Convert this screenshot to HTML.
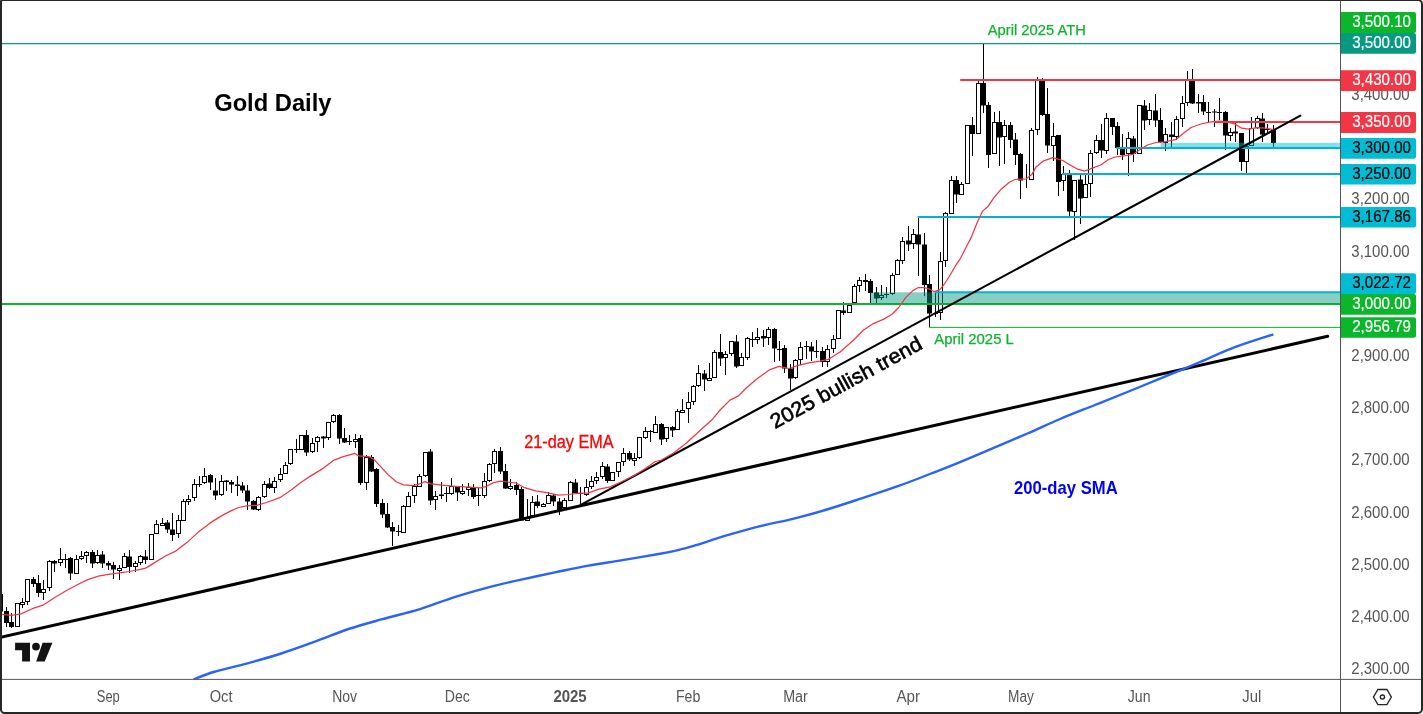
<!DOCTYPE html>
<html lang="en"><head><meta charset="utf-8"><title>Gold Daily</title>
<style>html,body{margin:0;padding:0;background:#fff;}body{width:1423px;height:714px;overflow:hidden;}svg{display:block;}text{font-family:"Liberation Sans",Arial,sans-serif;}</style>
</head><body>
<svg width="1423" height="714" viewBox="0 0 1423 714">
<rect x="0" y="0" width="1423" height="714" fill="#fff"/>
<defs><clipPath id="pane"><rect x="2" y="1" width="1338" height="678.5"/></clipPath></defs>
<g clip-path="url(#pane)">
<line x1="0" y1="43.6" x2="1340" y2="43.6" stroke="#089981" stroke-width="1.1"/>
<g id="candles">
<path d="M0.5 594V614" stroke="#000" stroke-width="1"/>
<rect x="-2" y="594.0" width="5" height="17.5" fill="#000"/>
<path d="M6.5 607V627" stroke="#000" stroke-width="1"/>
<rect x="4" y="611.0" width="5" height="12.0" fill="#000"/>
<path d="M11.5 613V628" stroke="#000" stroke-width="1"/>
<rect x="9" y="622.0" width="5" height="5.0" fill="#000"/>
<path d="M17.5 603V627" stroke="#000" stroke-width="1"/>
<rect x="15.5" y="603.5" width="4" height="23" fill="#fff" stroke="#000" stroke-width="1"/>
<path d="M22.5 598V608" stroke="#000" stroke-width="1"/>
<rect x="20.5" y="602.5" width="4" height="2" fill="#fff" stroke="#000" stroke-width="1"/>
<path d="M27.5 579V605" stroke="#000" stroke-width="1"/>
<rect x="25.5" y="579.5" width="4" height="22" fill="#fff" stroke="#000" stroke-width="1"/>
<path d="M33.5 577V587" stroke="#000" stroke-width="1"/>
<rect x="31" y="579.0" width="5" height="5.0" fill="#000"/>
<path d="M38.5 575V597" stroke="#000" stroke-width="1"/>
<rect x="36" y="583.0" width="5" height="10.0" fill="#000"/>
<path d="M43.5 580V600" stroke="#000" stroke-width="1"/>
<rect x="41.5" y="589.5" width="4" height="3" fill="#fff" stroke="#000" stroke-width="1"/>
<path d="M49.5 560V591" stroke="#000" stroke-width="1"/>
<rect x="47.5" y="561.5" width="4" height="26" fill="#fff" stroke="#000" stroke-width="1"/>
<path d="M54.5 560V572" stroke="#000" stroke-width="1"/>
<rect x="52" y="561.0" width="5" height="2.5" fill="#000"/>
<path d="M60.5 548V566" stroke="#000" stroke-width="1"/>
<rect x="58.5" y="559.5" width="4" height="3" fill="#fff" stroke="#000" stroke-width="1"/>
<path d="M65.5 554V568" stroke="#000" stroke-width="1"/>
<path d="M63 559.5H68" stroke="#000" stroke-width="1"/>
<path d="M70.5 557V580" stroke="#000" stroke-width="1"/>
<rect x="68" y="558.0" width="5" height="15.5" fill="#000"/>
<path d="M76.5 555V574" stroke="#000" stroke-width="1"/>
<rect x="74.5" y="559.5" width="4" height="14" fill="#fff" stroke="#000" stroke-width="1"/>
<path d="M81.5 551V560" stroke="#000" stroke-width="1"/>
<rect x="79.5" y="556.5" width="4" height="2" fill="#fff" stroke="#000" stroke-width="1"/>
<path d="M86.5 551V563" stroke="#000" stroke-width="1"/>
<rect x="84.5" y="552.5" width="4" height="3" fill="#fff" stroke="#000" stroke-width="1"/>
<path d="M92.5 550V568" stroke="#000" stroke-width="1"/>
<rect x="90" y="552.0" width="5" height="11.5" fill="#000"/>
<path d="M97.5 550V564" stroke="#000" stroke-width="1"/>
<rect x="95.5" y="555.5" width="4" height="7" fill="#fff" stroke="#000" stroke-width="1"/>
<path d="M102.5 551V568" stroke="#000" stroke-width="1"/>
<rect x="100" y="554.5" width="5" height="9.0" fill="#000"/>
<path d="M108.5 561V570" stroke="#000" stroke-width="1"/>
<rect x="106" y="563.0" width="5" height="2.5" fill="#000"/>
<path d="M113.5 562V579" stroke="#000" stroke-width="1"/>
<rect x="111" y="565.0" width="5" height="4.5" fill="#000"/>
<path d="M119.5 565V580" stroke="#000" stroke-width="1"/>
<rect x="117.5" y="568.5" width="4" height="2" fill="#fff" stroke="#000" stroke-width="1"/>
<path d="M124.5 553V568" stroke="#000" stroke-width="1"/>
<rect x="122.5" y="556.5" width="4" height="11" fill="#fff" stroke="#000" stroke-width="1"/>
<path d="M129.5 550V573" stroke="#000" stroke-width="1"/>
<rect x="127" y="556.5" width="5" height="10.5" fill="#000"/>
<path d="M135.5 561V572" stroke="#000" stroke-width="1"/>
<rect x="133.5" y="563.5" width="4" height="3" fill="#fff" stroke="#000" stroke-width="1"/>
<path d="M140.5 555V565" stroke="#000" stroke-width="1"/>
<rect x="138.5" y="556.5" width="4" height="6" fill="#fff" stroke="#000" stroke-width="1"/>
<path d="M145.5 550V564" stroke="#000" stroke-width="1"/>
<rect x="143" y="556.5" width="5" height="3.5" fill="#000"/>
<path d="M151.5 534V560" stroke="#000" stroke-width="1"/>
<rect x="149.5" y="534.5" width="4" height="25" fill="#fff" stroke="#000" stroke-width="1"/>
<path d="M156.5 520V534" stroke="#000" stroke-width="1"/>
<rect x="154.5" y="524.5" width="4" height="9" fill="#fff" stroke="#000" stroke-width="1"/>
<path d="M162.5 518V526" stroke="#000" stroke-width="1"/>
<rect x="160.5" y="523.5" width="4" height="2" fill="#fff" stroke="#000" stroke-width="1"/>
<path d="M167.5 520V533" stroke="#000" stroke-width="1"/>
<rect x="165" y="522.5" width="5" height="7.0" fill="#000"/>
<path d="M172.5 513V541" stroke="#000" stroke-width="1"/>
<rect x="170" y="529.5" width="5" height="5.5" fill="#000"/>
<path d="M178.5 515V538" stroke="#000" stroke-width="1"/>
<rect x="176.5" y="520.5" width="4" height="13" fill="#fff" stroke="#000" stroke-width="1"/>
<path d="M183.5 499V521" stroke="#000" stroke-width="1"/>
<rect x="181.5" y="501.5" width="4" height="19" fill="#fff" stroke="#000" stroke-width="1"/>
<path d="M188.5 495V505" stroke="#000" stroke-width="1"/>
<rect x="186.5" y="499.5" width="4" height="2" fill="#fff" stroke="#000" stroke-width="1"/>
<path d="M194.5 479V501" stroke="#000" stroke-width="1"/>
<rect x="192.5" y="484.5" width="4" height="13" fill="#fff" stroke="#000" stroke-width="1"/>
<path d="M199.5 476V487" stroke="#000" stroke-width="1"/>
<path d="M197 484.5H202" stroke="#000" stroke-width="1"/>
<path d="M204.5 468V484" stroke="#000" stroke-width="1"/>
<rect x="202.5" y="476.5" width="4" height="6" fill="#fff" stroke="#000" stroke-width="1"/>
<path d="M210.5 474V490" stroke="#000" stroke-width="1"/>
<rect x="208" y="475.0" width="5" height="7.5" fill="#000"/>
<path d="M215.5 478V500" stroke="#000" stroke-width="1"/>
<rect x="213" y="490.5" width="5" height="5.0" fill="#000"/>
<path d="M221.5 475V496" stroke="#000" stroke-width="1"/>
<rect x="219.5" y="481.5" width="4" height="13" fill="#fff" stroke="#000" stroke-width="1"/>
<path d="M226.5 480V491" stroke="#000" stroke-width="1"/>
<rect x="224" y="480.5" width="5" height="1.5" fill="#000"/>
<path d="M231.5 480V493" stroke="#000" stroke-width="1"/>
<rect x="229" y="482.0" width="5" height="2.5" fill="#000"/>
<path d="M237.5 476V496" stroke="#000" stroke-width="1"/>
<rect x="235" y="484.5" width="5" height="1.5" fill="#000"/>
<path d="M242.5 482V493" stroke="#000" stroke-width="1"/>
<rect x="240" y="485.5" width="5" height="5.0" fill="#000"/>
<path d="M247.5 485V510" stroke="#000" stroke-width="1"/>
<rect x="245" y="490.5" width="5" height="11.0" fill="#000"/>
<path d="M253.5 500V510" stroke="#000" stroke-width="1"/>
<rect x="251" y="501.0" width="5" height="8.5" fill="#000"/>
<path d="M258.5 496V511" stroke="#000" stroke-width="1"/>
<rect x="256.5" y="497.5" width="4" height="12" fill="#fff" stroke="#000" stroke-width="1"/>
<path d="M264.5 481V498" stroke="#000" stroke-width="1"/>
<rect x="262.5" y="484.5" width="4" height="12" fill="#fff" stroke="#000" stroke-width="1"/>
<path d="M269.5 478V489" stroke="#000" stroke-width="1"/>
<rect x="267" y="483.5" width="5" height="4.5" fill="#000"/>
<path d="M274.5 477V493" stroke="#000" stroke-width="1"/>
<rect x="272.5" y="481.5" width="4" height="6" fill="#fff" stroke="#000" stroke-width="1"/>
<path d="M280.5 468V482" stroke="#000" stroke-width="1"/>
<rect x="278.5" y="474.5" width="4" height="5" fill="#fff" stroke="#000" stroke-width="1"/>
<path d="M285.5 462V474" stroke="#000" stroke-width="1"/>
<rect x="283.5" y="465.5" width="4" height="8" fill="#fff" stroke="#000" stroke-width="1"/>
<path d="M290.5 449V465" stroke="#000" stroke-width="1"/>
<rect x="288.5" y="449.5" width="4" height="14" fill="#fff" stroke="#000" stroke-width="1"/>
<path d="M296.5 439V453" stroke="#000" stroke-width="1"/>
<path d="M294 449.5H299" stroke="#000" stroke-width="1"/>
<path d="M301.5 435V450" stroke="#000" stroke-width="1"/>
<rect x="299.5" y="435.5" width="4" height="14" fill="#fff" stroke="#000" stroke-width="1"/>
<path d="M306.5 430V456" stroke="#000" stroke-width="1"/>
<rect x="304" y="435.0" width="5" height="17.5" fill="#000"/>
<path d="M312.5 438V453" stroke="#000" stroke-width="1"/>
<rect x="310.5" y="443.5" width="4" height="8" fill="#fff" stroke="#000" stroke-width="1"/>
<path d="M317.5 436V452" stroke="#000" stroke-width="1"/>
<rect x="315.5" y="437.5" width="4" height="4" fill="#fff" stroke="#000" stroke-width="1"/>
<path d="M323.5 436V448" stroke="#000" stroke-width="1"/>
<rect x="321" y="436.5" width="5" height="2.0" fill="#000"/>
<path d="M328.5 422V440" stroke="#000" stroke-width="1"/>
<rect x="326.5" y="422.5" width="4" height="15" fill="#fff" stroke="#000" stroke-width="1"/>
<path d="M333.5 414V423" stroke="#000" stroke-width="1"/>
<rect x="331.5" y="415.5" width="4" height="6" fill="#fff" stroke="#000" stroke-width="1"/>
<path d="M339.5 414V444" stroke="#000" stroke-width="1"/>
<rect x="337" y="415.0" width="5" height="23.5" fill="#000"/>
<path d="M344.5 428V443" stroke="#000" stroke-width="1"/>
<rect x="342" y="438.0" width="5" height="4.5" fill="#000"/>
<path d="M349.5 435V445" stroke="#000" stroke-width="1"/>
<path d="M347 441.5H352" stroke="#000" stroke-width="1"/>
<path d="M355.5 434V448" stroke="#000" stroke-width="1"/>
<rect x="353.5" y="439.5" width="4" height="2" fill="#fff" stroke="#000" stroke-width="1"/>
<path d="M360.5 435V485" stroke="#000" stroke-width="1"/>
<rect x="358" y="438.0" width="5" height="45.0" fill="#000"/>
<path d="M366.5 455V490" stroke="#000" stroke-width="1"/>
<rect x="364.5" y="457.5" width="4" height="25" fill="#fff" stroke="#000" stroke-width="1"/>
<path d="M371.5 455V472" stroke="#000" stroke-width="1"/>
<rect x="369" y="457.0" width="5" height="14.5" fill="#000"/>
<path d="M376.5 468V507" stroke="#000" stroke-width="1"/>
<rect x="374" y="469.0" width="5" height="35.0" fill="#000"/>
<path d="M382.5 499V518" stroke="#000" stroke-width="1"/>
<rect x="380" y="503.0" width="5" height="11.5" fill="#000"/>
<path d="M387.5 503V528" stroke="#000" stroke-width="1"/>
<rect x="385" y="514.0" width="5" height="13.5" fill="#000"/>
<path d="M392.5 522V546" stroke="#000" stroke-width="1"/>
<rect x="390" y="527.0" width="5" height="4.5" fill="#000"/>
<path d="M398.5 525V536" stroke="#000" stroke-width="1"/>
<path d="M396 531.5H401" stroke="#000" stroke-width="1"/>
<path d="M403.5 505V533" stroke="#000" stroke-width="1"/>
<rect x="401.5" y="506.5" width="4" height="26" fill="#fff" stroke="#000" stroke-width="1"/>
<path d="M408.5 492V507" stroke="#000" stroke-width="1"/>
<rect x="406.5" y="496.5" width="4" height="10" fill="#fff" stroke="#000" stroke-width="1"/>
<path d="M414.5 484V503" stroke="#000" stroke-width="1"/>
<rect x="412.5" y="486.5" width="4" height="9" fill="#fff" stroke="#000" stroke-width="1"/>
<path d="M419.5 474V487" stroke="#000" stroke-width="1"/>
<rect x="417.5" y="476.5" width="4" height="10" fill="#fff" stroke="#000" stroke-width="1"/>
<path d="M425.5 452V477" stroke="#000" stroke-width="1"/>
<rect x="423.5" y="452.5" width="4" height="23" fill="#fff" stroke="#000" stroke-width="1"/>
<path d="M430.5 449V505" stroke="#000" stroke-width="1"/>
<rect x="428" y="451.5" width="5" height="49.0" fill="#000"/>
<path d="M435.5 491V510" stroke="#000" stroke-width="1"/>
<rect x="433.5" y="496.5" width="4" height="3" fill="#fff" stroke="#000" stroke-width="1"/>
<path d="M441.5 482V499" stroke="#000" stroke-width="1"/>
<rect x="439" y="494.5" width="5" height="1.5" fill="#000"/>
<path d="M446.5 487V502" stroke="#000" stroke-width="1"/>
<path d="M444 493.5H449" stroke="#000" stroke-width="1"/>
<path d="M451.5 478V495" stroke="#000" stroke-width="1"/>
<rect x="449.5" y="486.5" width="4" height="7" fill="#fff" stroke="#000" stroke-width="1"/>
<path d="M457.5 486V501" stroke="#000" stroke-width="1"/>
<rect x="455" y="486.5" width="5" height="6.0" fill="#000"/>
<path d="M462.5 484V495" stroke="#000" stroke-width="1"/>
<rect x="460.5" y="491.5" width="4" height="2" fill="#fff" stroke="#000" stroke-width="1"/>
<path d="M468.5 483V496" stroke="#000" stroke-width="1"/>
<rect x="466.5" y="487.5" width="4" height="2" fill="#fff" stroke="#000" stroke-width="1"/>
<path d="M473.5 484V499" stroke="#000" stroke-width="1"/>
<rect x="471" y="487.0" width="5" height="10.0" fill="#000"/>
<path d="M478.5 488V506" stroke="#000" stroke-width="1"/>
<path d="M476 495.5H481" stroke="#000" stroke-width="1"/>
<path d="M484.5 473V498" stroke="#000" stroke-width="1"/>
<rect x="482.5" y="481.5" width="4" height="14" fill="#fff" stroke="#000" stroke-width="1"/>
<path d="M489.5 463V482" stroke="#000" stroke-width="1"/>
<rect x="487.5" y="464.5" width="4" height="16" fill="#fff" stroke="#000" stroke-width="1"/>
<path d="M494.5 449V473" stroke="#000" stroke-width="1"/>
<rect x="492.5" y="451.5" width="4" height="12" fill="#fff" stroke="#000" stroke-width="1"/>
<path d="M500.5 447V474" stroke="#000" stroke-width="1"/>
<rect x="498" y="451.0" width="5" height="20.5" fill="#000"/>
<path d="M505.5 464V489" stroke="#000" stroke-width="1"/>
<rect x="503" y="471.0" width="5" height="17.5" fill="#000"/>
<path d="M510.5 479V490" stroke="#000" stroke-width="1"/>
<rect x="508.5" y="486.5" width="4" height="2" fill="#fff" stroke="#000" stroke-width="1"/>
<path d="M516.5 482V495" stroke="#000" stroke-width="1"/>
<rect x="514" y="485.0" width="5" height="5.0" fill="#000"/>
<path d="M521.5 487V520" stroke="#000" stroke-width="1"/>
<rect x="519" y="489.0" width="5" height="31.5" fill="#000"/>
<path d="M527.5 499V521" stroke="#000" stroke-width="1"/>
<rect x="525.5" y="518.5" width="4" height="2" fill="#fff" stroke="#000" stroke-width="1"/>
<path d="M532.5 496V516" stroke="#000" stroke-width="1"/>
<rect x="530.5" y="502.5" width="4" height="13" fill="#fff" stroke="#000" stroke-width="1"/>
<path d="M537.5 495V508" stroke="#000" stroke-width="1"/>
<rect x="535" y="501.5" width="5" height="4.5" fill="#000"/>
<path d="M543.5 503V506" stroke="#000" stroke-width="1"/>
<rect x="541.5" y="504.5" width="4" height="2" fill="#fff" stroke="#000" stroke-width="1"/>
<path d="M548.5 492V504" stroke="#000" stroke-width="1"/>
<rect x="546.5" y="495.5" width="4" height="8" fill="#fff" stroke="#000" stroke-width="1"/>
<path d="M553.5 494V506" stroke="#000" stroke-width="1"/>
<rect x="551" y="495.5" width="5" height="6.0" fill="#000"/>
<path d="M559.5 498V515" stroke="#000" stroke-width="1"/>
<rect x="557" y="501.5" width="5" height="8.5" fill="#000"/>
<path d="M564.5 498V508" stroke="#000" stroke-width="1"/>
<rect x="562.5" y="500.5" width="4" height="7" fill="#fff" stroke="#000" stroke-width="1"/>
<path d="M570.5 481V501" stroke="#000" stroke-width="1"/>
<rect x="568.5" y="482.5" width="4" height="18" fill="#fff" stroke="#000" stroke-width="1"/>
<path d="M575.5 479V493" stroke="#000" stroke-width="1"/>
<rect x="573" y="482.5" width="5" height="10.5" fill="#000"/>
<path d="M580.5 487V504" stroke="#000" stroke-width="1"/>
<path d="M578 493.5H583" stroke="#000" stroke-width="1"/>
<path d="M586.5 479V496" stroke="#000" stroke-width="1"/>
<rect x="584.5" y="487.5" width="4" height="7" fill="#fff" stroke="#000" stroke-width="1"/>
<path d="M591.5 476V489" stroke="#000" stroke-width="1"/>
<rect x="589.5" y="481.5" width="4" height="5" fill="#fff" stroke="#000" stroke-width="1"/>
<path d="M596.5 472V484" stroke="#000" stroke-width="1"/>
<rect x="594.5" y="477.5" width="4" height="3" fill="#fff" stroke="#000" stroke-width="1"/>
<path d="M602.5 462V479" stroke="#000" stroke-width="1"/>
<rect x="600.5" y="466.5" width="4" height="10" fill="#fff" stroke="#000" stroke-width="1"/>
<path d="M607.5 464V483" stroke="#000" stroke-width="1"/>
<rect x="605" y="466.5" width="5" height="14.5" fill="#000"/>
<path d="M612.5 472V481" stroke="#000" stroke-width="1"/>
<rect x="610.5" y="472.5" width="4" height="8" fill="#fff" stroke="#000" stroke-width="1"/>
<path d="M618.5 462V477" stroke="#000" stroke-width="1"/>
<rect x="616.5" y="462.5" width="4" height="9" fill="#fff" stroke="#000" stroke-width="1"/>
<path d="M623.5 448V466" stroke="#000" stroke-width="1"/>
<rect x="621.5" y="453.5" width="4" height="8" fill="#fff" stroke="#000" stroke-width="1"/>
<path d="M629.5 451V461" stroke="#000" stroke-width="1"/>
<rect x="627" y="453.0" width="5" height="6.5" fill="#000"/>
<path d="M634.5 453V466" stroke="#000" stroke-width="1"/>
<rect x="632.5" y="458.5" width="4" height="2" fill="#fff" stroke="#000" stroke-width="1"/>
<path d="M639.5 437V459" stroke="#000" stroke-width="1"/>
<rect x="637.5" y="437.5" width="4" height="20" fill="#fff" stroke="#000" stroke-width="1"/>
<path d="M645.5 427V439" stroke="#000" stroke-width="1"/>
<rect x="643.5" y="431.5" width="4" height="6" fill="#fff" stroke="#000" stroke-width="1"/>
<path d="M650.5 430V442" stroke="#000" stroke-width="1"/>
<path d="M648 431.5H653" stroke="#000" stroke-width="1"/>
<path d="M655.5 416V433" stroke="#000" stroke-width="1"/>
<rect x="653.5" y="424.5" width="4" height="8" fill="#fff" stroke="#000" stroke-width="1"/>
<path d="M661.5 423V445" stroke="#000" stroke-width="1"/>
<rect x="659" y="424.0" width="5" height="15.5" fill="#000"/>
<path d="M666.5 427V442" stroke="#000" stroke-width="1"/>
<rect x="664.5" y="427.5" width="4" height="11" fill="#fff" stroke="#000" stroke-width="1"/>
<path d="M672.5 426V437" stroke="#000" stroke-width="1"/>
<rect x="670" y="427.0" width="5" height="3.5" fill="#000"/>
<path d="M677.5 409V430" stroke="#000" stroke-width="1"/>
<rect x="675.5" y="411.5" width="4" height="18" fill="#fff" stroke="#000" stroke-width="1"/>
<path d="M682.5 399V412" stroke="#000" stroke-width="1"/>
<rect x="680.5" y="410.5" width="4" height="2" fill="#fff" stroke="#000" stroke-width="1"/>
<path d="M688.5 392V423" stroke="#000" stroke-width="1"/>
<rect x="686.5" y="402.5" width="4" height="6" fill="#fff" stroke="#000" stroke-width="1"/>
<path d="M693.5 385V405" stroke="#000" stroke-width="1"/>
<rect x="691.5" y="386.5" width="4" height="15" fill="#fff" stroke="#000" stroke-width="1"/>
<path d="M698.5 365V387" stroke="#000" stroke-width="1"/>
<rect x="696.5" y="373.5" width="4" height="12" fill="#fff" stroke="#000" stroke-width="1"/>
<path d="M704.5 370V391" stroke="#000" stroke-width="1"/>
<rect x="702" y="373.5" width="5" height="6.0" fill="#000"/>
<path d="M709.5 363V380" stroke="#000" stroke-width="1"/>
<rect x="707.5" y="378.5" width="4" height="2" fill="#fff" stroke="#000" stroke-width="1"/>
<path d="M714.5 350V378" stroke="#000" stroke-width="1"/>
<rect x="712.5" y="352.5" width="4" height="25" fill="#fff" stroke="#000" stroke-width="1"/>
<path d="M720.5 334V366" stroke="#000" stroke-width="1"/>
<rect x="718" y="352.0" width="5" height="6.5" fill="#000"/>
<path d="M725.5 351V375" stroke="#000" stroke-width="1"/>
<rect x="723.5" y="354.5" width="4" height="3" fill="#fff" stroke="#000" stroke-width="1"/>
<path d="M731.5 341V356" stroke="#000" stroke-width="1"/>
<rect x="729.5" y="341.5" width="4" height="12" fill="#fff" stroke="#000" stroke-width="1"/>
<path d="M736.5 335V368" stroke="#000" stroke-width="1"/>
<rect x="734" y="341.5" width="5" height="25.0" fill="#000"/>
<path d="M741.5 353V366" stroke="#000" stroke-width="1"/>
<rect x="739.5" y="357.5" width="4" height="8" fill="#fff" stroke="#000" stroke-width="1"/>
<path d="M747.5 337V360" stroke="#000" stroke-width="1"/>
<rect x="745.5" y="338.5" width="4" height="19" fill="#fff" stroke="#000" stroke-width="1"/>
<path d="M752.5 332V347" stroke="#000" stroke-width="1"/>
<path d="M750 339.5H755" stroke="#000" stroke-width="1"/>
<path d="M757.5 328V344" stroke="#000" stroke-width="1"/>
<rect x="755.5" y="337.5" width="4" height="2" fill="#fff" stroke="#000" stroke-width="1"/>
<path d="M763.5 330V347" stroke="#000" stroke-width="1"/>
<rect x="761" y="336.0" width="5" height="2.5" fill="#000"/>
<path d="M768.5 327V345" stroke="#000" stroke-width="1"/>
<rect x="766.5" y="329.5" width="4" height="8" fill="#fff" stroke="#000" stroke-width="1"/>
<path d="M774.5 328V362" stroke="#000" stroke-width="1"/>
<rect x="772" y="329.0" width="5" height="19.5" fill="#000"/>
<path d="M779.5 341V361" stroke="#000" stroke-width="1"/>
<path d="M777 349.5H782" stroke="#000" stroke-width="1"/>
<path d="M784.5 345V373" stroke="#000" stroke-width="1"/>
<rect x="782" y="348.0" width="5" height="20.5" fill="#000"/>
<path d="M790.5 364V390" stroke="#000" stroke-width="1"/>
<rect x="788" y="368.5" width="5" height="10.0" fill="#000"/>
<path d="M795.5 359V379" stroke="#000" stroke-width="1"/>
<rect x="793.5" y="360.5" width="4" height="17" fill="#fff" stroke="#000" stroke-width="1"/>
<path d="M800.5 342V365" stroke="#000" stroke-width="1"/>
<rect x="798.5" y="347.5" width="4" height="12" fill="#fff" stroke="#000" stroke-width="1"/>
<path d="M806.5 341V359" stroke="#000" stroke-width="1"/>
<path d="M804 346.5H809" stroke="#000" stroke-width="1"/>
<path d="M811.5 342V361" stroke="#000" stroke-width="1"/>
<rect x="809" y="346.5" width="5" height="5.0" fill="#000"/>
<path d="M816.5 340V358" stroke="#000" stroke-width="1"/>
<path d="M814 351.5H819" stroke="#000" stroke-width="1"/>
<path d="M822.5 347V367" stroke="#000" stroke-width="1"/>
<rect x="820" y="351.0" width="5" height="11.0" fill="#000"/>
<path d="M827.5 345V367" stroke="#000" stroke-width="1"/>
<rect x="825.5" y="349.5" width="4" height="12" fill="#fff" stroke="#000" stroke-width="1"/>
<path d="M833.5 335V353" stroke="#000" stroke-width="1"/>
<rect x="831.5" y="339.5" width="4" height="9" fill="#fff" stroke="#000" stroke-width="1"/>
<path d="M838.5 310V339" stroke="#000" stroke-width="1"/>
<rect x="836.5" y="310.5" width="4" height="28" fill="#fff" stroke="#000" stroke-width="1"/>
<path d="M843.5 302V315" stroke="#000" stroke-width="1"/>
<rect x="841" y="310.5" width="5" height="2.5" fill="#000"/>
<path d="M849.5 304V313" stroke="#000" stroke-width="1"/>
<rect x="847.5" y="305.5" width="4" height="7" fill="#fff" stroke="#000" stroke-width="1"/>
<path d="M854.5 284V303" stroke="#000" stroke-width="1"/>
<rect x="852.5" y="286.5" width="4" height="16" fill="#fff" stroke="#000" stroke-width="1"/>
<path d="M859.5 277V292" stroke="#000" stroke-width="1"/>
<rect x="857.5" y="280.5" width="4" height="5" fill="#fff" stroke="#000" stroke-width="1"/>
<path d="M865.5 274V291" stroke="#000" stroke-width="1"/>
<rect x="863" y="280.0" width="5" height="2.0" fill="#000"/>
<path d="M870.5 279V303" stroke="#000" stroke-width="1"/>
<rect x="868" y="281.0" width="5" height="12.0" fill="#000"/>
<path d="M876.5 287V303" stroke="#000" stroke-width="1"/>
<rect x="874" y="292.5" width="5" height="6.0" fill="#000"/>
<path d="M881.5 285V300" stroke="#000" stroke-width="1"/>
<rect x="879.5" y="295.5" width="4" height="2" fill="#fff" stroke="#000" stroke-width="1"/>
<path d="M886.5 287V298" stroke="#000" stroke-width="1"/>
<path d="M884 294.5H889" stroke="#000" stroke-width="1"/>
<path d="M892.5 273V295" stroke="#000" stroke-width="1"/>
<rect x="890.5" y="275.5" width="4" height="18" fill="#fff" stroke="#000" stroke-width="1"/>
<path d="M897.5 259V275" stroke="#000" stroke-width="1"/>
<rect x="895.5" y="260.5" width="4" height="14" fill="#fff" stroke="#000" stroke-width="1"/>
<path d="M902.5 237V264" stroke="#000" stroke-width="1"/>
<rect x="900.5" y="241.5" width="4" height="19" fill="#fff" stroke="#000" stroke-width="1"/>
<path d="M908.5 226V251" stroke="#000" stroke-width="1"/>
<rect x="906" y="240.5" width="5" height="4.0" fill="#000"/>
<path d="M913.5 229V249" stroke="#000" stroke-width="1"/>
<rect x="911.5" y="234.5" width="4" height="9" fill="#fff" stroke="#000" stroke-width="1"/>
<path d="M918.5 218V276" stroke="#000" stroke-width="1"/>
<rect x="916" y="234.5" width="5" height="10.0" fill="#000"/>
<path d="M924.5 233V296" stroke="#000" stroke-width="1"/>
<rect x="922" y="244.5" width="5" height="40.5" fill="#000"/>
<path d="M929.5 275V327" stroke="#000" stroke-width="1"/>
<rect x="927" y="284.0" width="5" height="29.5" fill="#000"/>
<path d="M935.5 292V317" stroke="#000" stroke-width="1"/>
<path d="M933 313.5H938" stroke="#000" stroke-width="1"/>
<path d="M940.5 252V320" stroke="#000" stroke-width="1"/>
<rect x="938.5" y="261.5" width="4" height="51" fill="#fff" stroke="#000" stroke-width="1"/>
<path d="M945.5 212V267" stroke="#000" stroke-width="1"/>
<rect x="943.5" y="213.5" width="4" height="47" fill="#fff" stroke="#000" stroke-width="1"/>
<path d="M951.5 176V214" stroke="#000" stroke-width="1"/>
<rect x="949.5" y="180.5" width="4" height="33" fill="#fff" stroke="#000" stroke-width="1"/>
<path d="M956.5 176V203" stroke="#000" stroke-width="1"/>
<rect x="954" y="180.0" width="5" height="14.5" fill="#000"/>
<path d="M961.5 182V195" stroke="#000" stroke-width="1"/>
<rect x="959.5" y="184.5" width="4" height="10" fill="#fff" stroke="#000" stroke-width="1"/>
<path d="M967.5 125V184" stroke="#000" stroke-width="1"/>
<rect x="965.5" y="125.5" width="4" height="58" fill="#fff" stroke="#000" stroke-width="1"/>
<path d="M972.5 117V156" stroke="#000" stroke-width="1"/>
<rect x="970" y="125.0" width="5" height="9.0" fill="#000"/>
<path d="M978.5 81V134" stroke="#000" stroke-width="1"/>
<rect x="976.5" y="83.5" width="4" height="50" fill="#fff" stroke="#000" stroke-width="1"/>
<path d="M983.5 44V113" stroke="#000" stroke-width="1"/>
<rect x="981" y="83.0" width="5" height="22.5" fill="#000"/>
<path d="M988.5 102V168" stroke="#000" stroke-width="1"/>
<rect x="986" y="105.0" width="5" height="50.0" fill="#000"/>
<path d="M994.5 112V154" stroke="#000" stroke-width="1"/>
<rect x="992.5" y="122.5" width="4" height="31" fill="#fff" stroke="#000" stroke-width="1"/>
<path d="M999.5 111V166" stroke="#000" stroke-width="1"/>
<rect x="997" y="122.0" width="5" height="15.5" fill="#000"/>
<path d="M1004.5 120V164" stroke="#000" stroke-width="1"/>
<rect x="1002.5" y="125.5" width="4" height="11" fill="#fff" stroke="#000" stroke-width="1"/>
<path d="M1010.5 122V148" stroke="#000" stroke-width="1"/>
<rect x="1008" y="125.0" width="5" height="15.0" fill="#000"/>
<path d="M1015.5 133V165" stroke="#000" stroke-width="1"/>
<rect x="1013" y="139.5" width="5" height="15.5" fill="#000"/>
<path d="M1020.5 153V199" stroke="#000" stroke-width="1"/>
<rect x="1018" y="154.0" width="5" height="26.5" fill="#000"/>
<path d="M1026.5 164V188" stroke="#000" stroke-width="1"/>
<path d="M1031.5 128V180" stroke="#000" stroke-width="1"/>
<rect x="1029.5" y="130.5" width="4" height="49" fill="#fff" stroke="#000" stroke-width="1"/>
<path d="M1037.5 77V135" stroke="#000" stroke-width="1"/>
<rect x="1035.5" y="80.5" width="4" height="49" fill="#fff" stroke="#000" stroke-width="1"/>
<path d="M1042.5 78V116" stroke="#000" stroke-width="1"/>
<rect x="1040" y="80.0" width="5" height="35.0" fill="#000"/>
<path d="M1047.5 88V153" stroke="#000" stroke-width="1"/>
<rect x="1045" y="114.0" width="5" height="31.5" fill="#000"/>
<path d="M1053.5 123V161" stroke="#000" stroke-width="1"/>
<rect x="1051.5" y="136.5" width="4" height="9" fill="#fff" stroke="#000" stroke-width="1"/>
<path d="M1058.5 135V196" stroke="#000" stroke-width="1"/>
<rect x="1056" y="135.0" width="5" height="47.0" fill="#000"/>
<path d="M1063.5 166V191" stroke="#000" stroke-width="1"/>
<rect x="1061.5" y="174.5" width="4" height="6" fill="#fff" stroke="#000" stroke-width="1"/>
<path d="M1069.5 170V216" stroke="#000" stroke-width="1"/>
<rect x="1067" y="175.0" width="5" height="36.5" fill="#000"/>
<path d="M1074.5 180V240" stroke="#000" stroke-width="1"/>
<rect x="1072.5" y="180.5" width="4" height="31" fill="#fff" stroke="#000" stroke-width="1"/>
<path d="M1080.5 175V224" stroke="#000" stroke-width="1"/>
<rect x="1078" y="179.5" width="5" height="19.0" fill="#000"/>
<path d="M1085.5 174V198" stroke="#000" stroke-width="1"/>
<rect x="1083.5" y="184.5" width="4" height="13" fill="#fff" stroke="#000" stroke-width="1"/>
<path d="M1090.5 150V197" stroke="#000" stroke-width="1"/>
<rect x="1088.5" y="153.5" width="4" height="30" fill="#fff" stroke="#000" stroke-width="1"/>
<path d="M1096.5 135V154" stroke="#000" stroke-width="1"/>
<rect x="1094.5" y="140.5" width="4" height="12" fill="#fff" stroke="#000" stroke-width="1"/>
<path d="M1101.5 124V158" stroke="#000" stroke-width="1"/>
<rect x="1099" y="140.0" width="5" height="10.5" fill="#000"/>
<path d="M1106.5 113V154" stroke="#000" stroke-width="1"/>
<rect x="1104.5" y="118.5" width="4" height="32" fill="#fff" stroke="#000" stroke-width="1"/>
<path d="M1112.5 118V135" stroke="#000" stroke-width="1"/>
<rect x="1110" y="118.0" width="5" height="9.0" fill="#000"/>
<path d="M1117.5 122V155" stroke="#000" stroke-width="1"/>
<rect x="1115" y="126.0" width="5" height="22.0" fill="#000"/>
<path d="M1122.5 134V160" stroke="#000" stroke-width="1"/>
<rect x="1120" y="148.0" width="5" height="7.0" fill="#000"/>
<path d="M1128.5 132V176" stroke="#000" stroke-width="1"/>
<rect x="1126.5" y="138.5" width="4" height="15" fill="#fff" stroke="#000" stroke-width="1"/>
<path d="M1133.5 136V162" stroke="#000" stroke-width="1"/>
<rect x="1131" y="138.5" width="5" height="15.5" fill="#000"/>
<path d="M1139.5 105V154" stroke="#000" stroke-width="1"/>
<rect x="1137.5" y="105.5" width="4" height="48" fill="#fff" stroke="#000" stroke-width="1"/>
<path d="M1144.5 100V130" stroke="#000" stroke-width="1"/>
<rect x="1142" y="105.5" width="5" height="15.0" fill="#000"/>
<path d="M1149.5 103V125" stroke="#000" stroke-width="1"/>
<rect x="1147.5" y="110.5" width="4" height="9" fill="#fff" stroke="#000" stroke-width="1"/>
<path d="M1155.5 94V127" stroke="#000" stroke-width="1"/>
<rect x="1153" y="110.5" width="5" height="10.0" fill="#000"/>
<path d="M1160.5 108V143" stroke="#000" stroke-width="1"/>
<rect x="1158" y="120.0" width="5" height="22.0" fill="#000"/>
<path d="M1165.5 128V151" stroke="#000" stroke-width="1"/>
<rect x="1163.5" y="134.5" width="4" height="8" fill="#fff" stroke="#000" stroke-width="1"/>
<path d="M1171.5 122V147" stroke="#000" stroke-width="1"/>
<rect x="1169" y="134.5" width="5" height="2.5" fill="#000"/>
<path d="M1176.5 116V140" stroke="#000" stroke-width="1"/>
<rect x="1174.5" y="119.5" width="4" height="17" fill="#fff" stroke="#000" stroke-width="1"/>
<path d="M1182.5 96V127" stroke="#000" stroke-width="1"/>
<rect x="1180.5" y="103.5" width="4" height="15" fill="#fff" stroke="#000" stroke-width="1"/>
<path d="M1187.5 71V106" stroke="#000" stroke-width="1"/>
<rect x="1185.5" y="80.5" width="4" height="22" fill="#fff" stroke="#000" stroke-width="1"/>
<path d="M1192.5 69V104" stroke="#000" stroke-width="1"/>
<rect x="1190" y="80.0" width="5" height="23.5" fill="#000"/>
<path d="M1198.5 94V113" stroke="#000" stroke-width="1"/>
<rect x="1196" y="102.0" width="5" height="1.5" fill="#000"/>
<path d="M1203.5 95V115" stroke="#000" stroke-width="1"/>
<rect x="1201" y="102.0" width="5" height="9.5" fill="#000"/>
<path d="M1208.5 102V122" stroke="#000" stroke-width="1"/>
<path d="M1206 112.5H1211" stroke="#000" stroke-width="1"/>
<path d="M1214.5 109V127" stroke="#000" stroke-width="1"/>
<rect x="1212" y="111.5" width="5" height="1.0" fill="#000"/>
<path d="M1219.5 98V120" stroke="#000" stroke-width="1"/>
<path d="M1217 112.5H1222" stroke="#000" stroke-width="1"/>
<path d="M1225.5 111V150" stroke="#000" stroke-width="1"/>
<rect x="1223" y="112.0" width="5" height="23.5" fill="#000"/>
<path d="M1230.5 128V141" stroke="#000" stroke-width="1"/>
<rect x="1228.5" y="132.5" width="4" height="3" fill="#fff" stroke="#000" stroke-width="1"/>
<path d="M1235.5 123V142" stroke="#000" stroke-width="1"/>
<rect x="1233" y="131.5" width="5" height="2.0" fill="#000"/>
<path d="M1241.5 133V171" stroke="#000" stroke-width="1"/>
<rect x="1239" y="133.0" width="5" height="29.0" fill="#000"/>
<path d="M1246.5 146V173" stroke="#000" stroke-width="1"/>
<rect x="1244.5" y="146.5" width="4" height="15" fill="#fff" stroke="#000" stroke-width="1"/>
<path d="M1251.5 117V146" stroke="#000" stroke-width="1"/>
<rect x="1249.5" y="128.5" width="4" height="17" fill="#fff" stroke="#000" stroke-width="1"/>
<path d="M1257.5 116V129" stroke="#000" stroke-width="1"/>
<rect x="1255.5" y="118.5" width="4" height="9" fill="#fff" stroke="#000" stroke-width="1"/>
<path d="M1262.5 113V142" stroke="#000" stroke-width="1"/>
<rect x="1260" y="118.5" width="5" height="16.0" fill="#000"/>
<path d="M1267.5 124V134" stroke="#000" stroke-width="1"/>
<path d="M1265 129.5H1270" stroke="#000" stroke-width="1"/>
<path d="M1273.5 125V147" stroke="#000" stroke-width="1"/>
<rect x="1271" y="129.0" width="5" height="14.0" fill="#000"/>
</g>
<line x1="0" y1="303.9" x2="1340" y2="303.9" stroke="#0bb62a" stroke-width="2"/>
<rect x="870.6" y="292.3" width="470" height="11.6" fill="#089981" fill-opacity="0.48"/>
<rect x="1160.6" y="142.8" width="180" height="5.2" fill="#00bcd4" fill-opacity="0.48"/>
<line x1="935" y1="292.2" x2="1340" y2="292.2" stroke="#00b4d0" stroke-width="2"/>
<line x1="917.7" y1="217.0" x2="1340" y2="217.0" stroke="#00b4d0" stroke-width="2"/>
<line x1="1062" y1="174.1" x2="1340" y2="174.1" stroke="#00b4d0" stroke-width="2"/>
<line x1="1116.3" y1="148.0" x2="1340" y2="148.0" stroke="#00b4d0" stroke-width="2"/>
<line x1="960.2" y1="80.1" x2="1340" y2="80.1" stroke="#f23645" stroke-width="2"/>
<line x1="1214.2" y1="122" x2="1340" y2="122" stroke="#f23645" stroke-width="2"/>
<line x1="929" y1="327.4" x2="1340" y2="327.4" stroke="#0bb62a" stroke-width="1"/>
<line x1="-2" y1="637.9" x2="1327.7" y2="336.3" stroke="#000" stroke-width="3.0" stroke-linecap="round"/>
<line x1="580.8" y1="504.8" x2="1300.4" y2="115.7" stroke="#000" stroke-width="2.1" stroke-linecap="round"/>
<path d="M193.5 679.3C196.9 678.1 204.7 674.7 213.7 672.0C222.7 669.3 236.2 666.4 247.5 663.3C258.8 660.2 270.0 657.1 281.2 653.5C292.4 649.9 303.7 645.8 314.9 641.7C326.1 637.6 337.4 632.8 348.6 629.0C359.9 625.2 370.5 622.5 382.4 619.2C394.3 615.9 408.1 612.7 420.0 609.1C431.9 605.5 442.4 601.0 453.7 597.4C464.9 593.8 476.2 590.6 487.5 587.6C498.8 584.6 510.0 582.1 521.2 579.6C532.4 577.1 543.7 574.7 554.9 572.4C566.1 570.1 577.4 567.6 588.6 565.6C599.9 563.6 610.5 562.1 622.4 560.1C634.3 558.1 650.9 555.4 660.0 553.8C669.1 552.2 671.3 551.6 676.9 550.3C682.5 549.0 685.3 548.3 693.7 545.8C702.1 543.3 716.2 538.5 727.5 535.2C738.8 531.9 750.0 528.7 761.2 525.9C772.4 523.1 783.7 521.1 794.9 518.3C806.1 515.5 817.4 512.4 828.6 509.0C839.9 505.6 850.5 502.0 862.4 498.1C874.3 494.2 888.7 489.4 900.0 485.4C911.3 481.4 920.0 477.9 930.0 474.0C940.0 470.1 949.4 466.5 960.0 462.1C970.6 457.8 982.5 452.7 993.7 447.9C1005.0 443.1 1016.2 438.4 1027.5 433.5C1038.8 428.6 1050.0 423.2 1061.2 418.5C1072.4 413.8 1083.7 409.5 1094.9 405.0C1106.1 400.5 1117.3 396.1 1128.6 391.5C1139.8 386.9 1150.5 382.5 1162.4 377.6C1174.3 372.7 1187.9 367.1 1200.0 362.0C1212.1 356.9 1222.7 351.8 1234.9 347.2C1247.1 342.6 1267.0 336.5 1273.4 334.4" fill="none" stroke="#2962ff" stroke-width="2.4" stroke-linejoin="round"/>
<polyline points="2.1,614.3 11.2,615.3 21.1,613.9 32.3,608.7 43.6,604.8 54.8,597.5 66.1,590.7 77.3,584.8 87.1,579.9 98.4,576.1 108.2,574.3 119.5,572.9 129.3,571.5 140.5,569.4 146.2,567.9 154.6,562.6 165.8,555.7 175.7,551.1 186.9,542.6 199.0,531.4 210.3,522.9 220.1,516.6 229.9,511.4 238.4,507.5 246.8,505.8 256.7,505.4 266.5,502.5 280.5,497.3 291.2,490.0 301.1,482.2 310.9,475.9 322.2,468.9 333.4,460.4 343.2,456.6 354.9,453.4 358.7,455.9 370.0,456.9 374.2,459.7 378.3,464.1 388.1,474.6 396.5,482.0 403.6,484.9 413.4,485.6 420.4,483.7 424.7,481.6 430.3,483.7 441.5,485.1 455.6,486.3 469.6,487.2 480.9,487.9 486.5,486.3 493.5,482.6 500.5,481.2 507.6,482.0 516.0,483.0 524.4,487.7 535.7,490.8 546.9,492.6 558.3,495.2 568.1,494.5 579.4,493.1 587.8,493.1 599.0,489.2 610.3,486.8 621.5,481.8 634.2,475.5 645.4,468.5 655.2,461.5 660.9,460.3 673.5,453.0 686.2,443.2 694.6,435.5 703.0,427.7 711.5,420.3 720.1,410.0 730.0,400.1 738.4,395.9 746.8,387.5 756.7,379.0 769.3,369.9 779.1,366.4 789.0,368.5 797.4,365.7 808.7,362.9 819.9,361.2 828.3,359.4 834.0,355.8 840.0,352.0 853.7,340.0 863.6,330.0 873.4,323.6 883.2,319.4 891.7,314.5 898.7,307.5 905.7,297.6 912.8,290.6 918.4,287.5 924.0,287.5 929.6,289.2 934.5,291.7 939.5,289.9 943.7,285.0 949.3,276.5 954.9,266.7 960.5,258.3 966.2,247.0 971.4,237.1 977.0,223.1 982.6,211.1 988.2,206.2 993.8,197.8 1000.9,189.4 1009.3,182.3 1014.9,179.5 1026.2,178.8 1031.8,174.6 1036.0,166.9 1043.0,161.2 1052.9,157.7 1062.7,160.5 1069.7,164.8 1076.9,168.8 1084.6,171.2 1092.3,168.1 1100.8,165.0 1108.5,159.5 1115.1,157.0 1125.0,155.6 1133.4,154.3 1140.4,149.3 1147.5,145.0 1155.9,142.5 1164.3,141.8 1175.6,139.7 1182.6,134.0 1191.0,127.5 1200.9,124.0 1210.7,121.8 1220.5,121.1 1229.0,122.5 1234.6,123.9 1241.6,128.2 1248.7,129.2 1257.1,127.7 1265.5,128.2 1273.3,129.6" fill="none" stroke="#f23645" stroke-width="1.25" stroke-linejoin="round"/>
<text x="214.2" y="110.7" font-size="24.8" font-weight="bold" fill="#000" textLength="117.3" lengthAdjust="spacingAndGlyphs">Gold Daily</text>
<text x="524.3" y="447.5" font-size="18.4" fill="#ff0000" stroke="#ff0000" stroke-width="0.3" textLength="89.3" lengthAdjust="spacingAndGlyphs">21-day EMA</text>
<text x="987.8" y="34.9" font-size="15.2" fill="#0bb62a" stroke="#0bb62a" stroke-width="0.25" textLength="98" lengthAdjust="spacingAndGlyphs">April 2025 ATH</text>
<text x="934.3" y="343.7" font-size="15.2" fill="#0bb62a" stroke="#0bb62a" stroke-width="0.25" textLength="79.6" lengthAdjust="spacingAndGlyphs">April 2025 L</text>
<text x="1014" y="493.6" font-size="18.1" font-weight="bold" fill="#0000ff" textLength="103.7" lengthAdjust="spacingAndGlyphs">200-day SMA</text>
<text transform="translate(774.9,429.1) rotate(-28.6)" x="0" y="0" font-size="20.6" fill="#000" stroke="#000" stroke-width="0.6" textLength="169.4" lengthAdjust="spacingAndGlyphs">2025 bullish trend</text>
<g fill="#131313"><path d="M15.1 642.8H30V661.5H22.1V650.2H15.1Z"/><circle cx="36" cy="646.6" r="3.9"/><path d="M42.6 642.8H52.4L44.7 661.5H36.2Z"/></g>
</g>
<line x1="2" y1="679.4" x2="1421" y2="679.4" stroke="#555" stroke-width="1"/>
<line x1="1340.5" y1="1" x2="1340.5" y2="712" stroke="#555" stroke-width="1"/>
<text x="96.8" y="701.6" font-size="16.0" fill="#555" textLength="23" lengthAdjust="spacingAndGlyphs">Sep</text>
<text x="209.7" y="701.6" font-size="16.0" fill="#555" textLength="22.8" lengthAdjust="spacingAndGlyphs">Oct</text>
<text x="332.2" y="701.6" font-size="16.0" fill="#555" textLength="24.8" lengthAdjust="spacingAndGlyphs">Nov</text>
<text x="444.8" y="701.6" font-size="16.0" fill="#555" textLength="25" lengthAdjust="spacingAndGlyphs">Dec</text>
<text x="553.4" y="701.6" font-size="16.0" fill="#555" font-weight="bold" textLength="33.3" lengthAdjust="spacingAndGlyphs">2025</text>
<text x="676.0" y="701.6" font-size="16.0" fill="#555" textLength="24.3" lengthAdjust="spacingAndGlyphs">Feb</text>
<text x="783.2" y="701.6" font-size="16.0" fill="#555" textLength="24.6" lengthAdjust="spacingAndGlyphs">Mar</text>
<text x="896.5" y="701.6" font-size="16.0" fill="#555" textLength="23.6" lengthAdjust="spacingAndGlyphs">Apr</text>
<text x="1008.1" y="701.6" font-size="16.0" fill="#555" textLength="25.8" lengthAdjust="spacingAndGlyphs">May</text>
<text x="1127.8" y="701.6" font-size="16.0" fill="#555" textLength="22.7" lengthAdjust="spacingAndGlyphs">Jun</text>
<text x="1242.3" y="701.6" font-size="16.0" fill="#555" textLength="19" lengthAdjust="spacingAndGlyphs">Jul</text>
<text x="1351.3" y="100.1" font-size="16.1" fill="#555" textLength="58.3" lengthAdjust="spacingAndGlyphs">3,400.00</text>
<text x="1351.3" y="204.4" font-size="16.1" fill="#555" textLength="58.3" lengthAdjust="spacingAndGlyphs">3,200.00</text>
<text x="1351.3" y="256.6" font-size="16.1" fill="#555" textLength="58.3" lengthAdjust="spacingAndGlyphs">3,100.00</text>
<text x="1351.3" y="361.0" font-size="16.1" fill="#555" textLength="58.3" lengthAdjust="spacingAndGlyphs">2,900.00</text>
<text x="1351.3" y="413.2" font-size="16.1" fill="#555" textLength="58.3" lengthAdjust="spacingAndGlyphs">2,800.00</text>
<text x="1351.3" y="465.3" font-size="16.1" fill="#555" textLength="58.3" lengthAdjust="spacingAndGlyphs">2,700.00</text>
<text x="1351.3" y="517.5" font-size="16.1" fill="#555" textLength="58.3" lengthAdjust="spacingAndGlyphs">2,600.00</text>
<text x="1351.3" y="569.7" font-size="16.1" fill="#555" textLength="58.3" lengthAdjust="spacingAndGlyphs">2,500.00</text>
<text x="1351.3" y="621.9" font-size="16.1" fill="#555" textLength="58.3" lengthAdjust="spacingAndGlyphs">2,400.00</text>
<text x="1351.3" y="674.1" font-size="16.1" fill="#555" textLength="58.3" lengthAdjust="spacingAndGlyphs">2,300.00</text>
<path d="M1341 12.1H1414a2 2 0 0 1 2 2V31.0a2 2 0 0 1 -2 2H1341Z" fill="#0bb62a"/>
<text x="1352.2" y="26.9" font-size="16.1" fill="#fff" stroke="#fff" stroke-width="0.2" textLength="58.8" lengthAdjust="spacingAndGlyphs">3,500.10</text>
<path d="M1341 33.0H1414a2 2 0 0 1 2 2V51.8a2 2 0 0 1 -2 2H1341Z" fill="#089981"/>
<text x="1352.2" y="47.7" font-size="16.1" fill="#fff" stroke="#fff" stroke-width="0.2" textLength="58.8" lengthAdjust="spacingAndGlyphs">3,500.00</text>
<path d="M1341 70.3H1414a2 2 0 0 1 2 2V88.9a2 2 0 0 1 -2 2H1341Z" fill="#f23645"/>
<text x="1352.2" y="84.9" font-size="16.1" fill="#fff" stroke="#fff" stroke-width="0.2" textLength="58.8" lengthAdjust="spacingAndGlyphs">3,430.00</text>
<path d="M1341 111.9H1414a2 2 0 0 1 2 2V130.9a2 2 0 0 1 -2 2H1341Z" fill="#f23645"/>
<text x="1352.2" y="126.7" font-size="16.1" fill="#fff" stroke="#fff" stroke-width="0.2" textLength="58.8" lengthAdjust="spacingAndGlyphs">3,350.00</text>
<path d="M1341 138.1H1414a2 2 0 0 1 2 2V156.7a2 2 0 0 1 -2 2H1341Z" fill="#00bcd4"/>
<text x="1352.2" y="152.7" font-size="16.1" fill="#000" stroke="#000" stroke-width="0.2" textLength="58.8" lengthAdjust="spacingAndGlyphs">3,300.00</text>
<path d="M1341 163.9H1414a2 2 0 0 1 2 2V182.5a2 2 0 0 1 -2 2H1341Z" fill="#00bcd4"/>
<text x="1352.2" y="178.5" font-size="16.1" fill="#000" stroke="#000" stroke-width="0.2" textLength="58.8" lengthAdjust="spacingAndGlyphs">3,250.00</text>
<path d="M1341 207.1H1414a2 2 0 0 1 2 2V225.6a2 2 0 0 1 -2 2H1341Z" fill="#00bcd4"/>
<text x="1352.2" y="221.7" font-size="16.1" fill="#000" stroke="#000" stroke-width="0.2" textLength="58.8" lengthAdjust="spacingAndGlyphs">3,167.86</text>
<path d="M1341 273.2H1414a2 2 0 0 1 2 2V291.9a2 2 0 0 1 -2 2H1341Z" fill="#00bcd4"/>
<text x="1352.2" y="287.8" font-size="16.1" fill="#000" stroke="#000" stroke-width="0.2" textLength="58.8" lengthAdjust="spacingAndGlyphs">3,022.72</text>
<path d="M1341 293.9H1414a2 2 0 0 1 2 2V312.7a2 2 0 0 1 -2 2H1341Z" fill="#0bb62a"/>
<text x="1352.2" y="308.6" font-size="16.1" fill="#fff" stroke="#fff" stroke-width="0.2" textLength="58.8" lengthAdjust="spacingAndGlyphs">3,000.00</text>
<path d="M1341 317.3H1414a2 2 0 0 1 2 2V335.8a2 2 0 0 1 -2 2H1341Z" fill="#0bb62a"/>
<text x="1352.2" y="331.9" font-size="16.1" fill="#fff" stroke="#fff" stroke-width="0.2" textLength="58.8" lengthAdjust="spacingAndGlyphs">2,956.79</text>
<g fill="none" stroke="#222" stroke-width="1.3"><path d="M1373.4 697.1L1377.9 689.5H1386.9L1391.4 697.1L1386.9 704.7H1377.9Z"/><circle cx="1382.4" cy="697.1" r="2.1"/></g>
<path d="M2.5 0H1418a4 4 0 0 1 4 4V709a4 4 0 0 1 -4 4H4.5a3.5 3.5 0 0 1 -3.5 -3.5V1.5a1.5 1.5 0 0 1 1.5 -1.5Z" fill="none" stroke="#262626" stroke-width="2"/>
</svg></body></html>
